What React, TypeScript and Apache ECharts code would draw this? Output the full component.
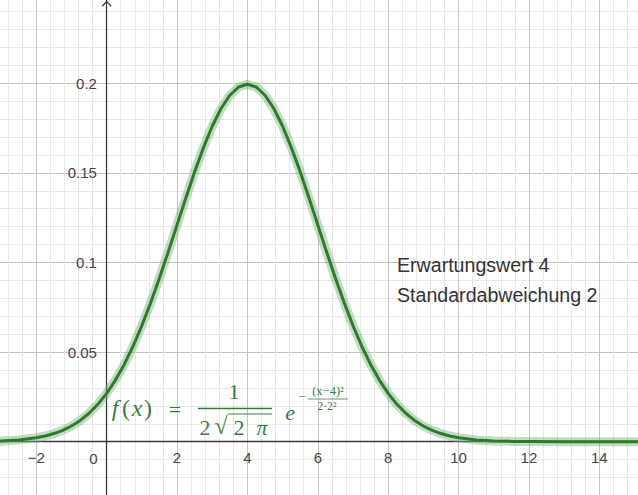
import React, { useEffect, useRef } from "react";
import * as echarts from "echarts";

// x positions and density values (mean 4, sd 2)
const xs = [
  -3.5, -3, -2.5, -2, -1.75, -1.5, -1.25, -1, -0.75, -0.5, -0.25, 0, 0.25, 0.5, 0.75, 1, 1.25, 1.5,
  1.75, 2, 2.25, 2.5, 2.75, 3, 3.25, 3.5, 3.75, 4, 4.25, 4.5, 4.75, 5, 5.25, 5.5, 5.75, 6, 6.25,
  6.5, 6.75, 7, 7.25, 7.5, 7.75, 8, 8.25, 8.5, 8.75, 9, 9.25, 9.5, 9.75, 10, 10.5, 11, 11.5, 12,
  13, 14, 15, 16,
];
const ys = [
  0.00018, 0.00044, 0.00101, 0.00222, 0.0032, 0.00455, 0.00636, 0.00876, 0.01189, 0.01587, 0.02086,
  0.027, 0.03439, 0.04314, 0.05327, 0.06476, 0.07751, 0.09132, 0.10594, 0.12099, 0.13603, 0.15057,
  0.16408, 0.17603, 0.18593, 0.19333, 0.19792, 0.19947, 0.19792, 0.19333, 0.18593, 0.17603,
  0.16408, 0.15057, 0.13603, 0.12099, 0.10594, 0.09132, 0.07751, 0.06476, 0.05327, 0.04314,
  0.03439, 0.027, 0.02086, 0.01587, 0.01189, 0.00876, 0.00636, 0.00455, 0.0032, 0.00222, 0.00101,
  0.00044, 0.00018, 0.00007, 0.00001, 0, 0, 0,
];
const xTickLabelZero = "0";
const infoLines = ["Erwartungswert 4", "Standardabweichung 2"];

const GREEN = "#3a7d3a";
const SERIF = "'Liberation Serif', 'DejaVu Serif', serif";
const SANS = "'Liberation Sans', Arial, sans-serif";

export default function App() {
  const ref = useRef<HTMLDivElement>(null);
  useEffect(() => {
    if (!ref.current) return;
    const chart = echarts.init(ref.current, undefined, { renderer: "svg" });
    const data = xs.map((x, i) => [x, ys[i]]);
    const minus = (s: string) => s.replace("-", "\u2212");
    const t = (text: string, x: number, y: number, size: number, extra: any = {}) => ({
      type: "text",
      x,
      y,
      style: {
        text,
        fill: GREEN,
        font: `${extra.italic ? "italic " : ""}${size}px ${SERIF}`,
        align: "center",
        verticalAlign: "middle",
      },
      z: 100,
    });
    const ln = (x1: number, y1: number, x2: number, y2: number, w: number) => ({
      type: "line",
      shape: { x1, y1, x2, y2 },
      style: { stroke: GREEN, lineWidth: w },
      z: 100,
    });
    chart.setOption({
      animation: false,
      grid: {
        left: -34.1,
        right: -31.7,
        top: -6.3,
        bottom: -36.3,
        containLabel: false,
        outerBoundsMode: "none",
      },
      xAxis: {
        type: "value",
        min: -4,
        max: 16,
        interval: 2,
        axisLine: { onZero: true, lineStyle: { color: "#3a3a3a", width: 1.3 } },
        axisTick: { show: false },
        axisLabel: {
          margin: -81,
          fontSize: 15,
          color: "#444",
          fontFamily: SANS,
          formatter: (v: number) => (v === 0 || v <= -4 || v >= 16 ? "" : minus(String(v))),
        },
        splitLine: { show: true, lineStyle: { color: "#c4c4c4", width: 1 } },
        minorTick: { show: false, splitNumber: 5 },
        minorSplitLine: { show: true, lineStyle: { color: "#e8e8e8", width: 1 } },
      },
      yAxis: {
        type: "value",
        min: -0.05,
        max: 0.25,
        interval: 0.05,
        axisLine: { onZero: true, lineStyle: { color: "#3a3a3a", width: 1.3 } },
        axisTick: { show: false },
        axisLabel: {
          margin: -131,
          fontSize: 15,
          color: "#444",
          fontFamily: SANS,
          formatter: (v: number) => {
            const r = Math.round(v * 100) / 100;
            return r <= 0 || r >= 0.25 ? "" : minus(String(r));
          },
        },
        splitLine: { show: true, lineStyle: { color: "#c4c4c4", width: 1 } },
        minorTick: { show: false, splitNumber: 5 },
        minorSplitLine: { show: true, lineStyle: { color: "#e8e8e8", width: 1 } },
      },
      series: [
        {
          type: "line",
          data,
          showSymbol: false,
          smooth: false,
          lineStyle: { color: "rgba(110,185,110,0.45)", width: 9, join: "round" },
          z: 2,
        },
        {
          type: "line",
          data,
          showSymbol: false,
          smooth: false,
          lineStyle: { color: "#2f7a2f", width: 3, join: "round" },
          z: 3,
        },
      ],
      graphic: [
        {
          type: "polyline",
          shape: { points: [[102.2, 6.2], [106.7, 1.6], [111.2, 6.2]] },
          style: { stroke: "#3a3a3a", lineWidth: 1.3, fill: "none" },
          z: 100,
        },
        {
          type: "text",
          x: 93.5,
          y: 458,
          style: {
            text: xTickLabelZero,
            fill: "#444",
            font: `15px ${SANS}`,
            align: "center",
            verticalAlign: "middle",
          },
          z: 100,
        },
        {
          type: "text",
          x: 397,
          y: 265,
          style: {
            text: infoLines[0],
            fill: "#333",
            font: `19.6px ${SANS}`,
            align: "left",
            verticalAlign: "middle",
          },
          z: 100,
        },
        {
          type: "text",
          x: 397,
          y: 295,
          style: {
            text: infoLines[1],
            fill: "#333",
            font: `19.6px ${SANS}`,
            align: "left",
            verticalAlign: "middle",
          },
          z: 100,
        },
        // formula f(x) = 1 / (2 sqrt(2 pi)) e^{-(x-4)^2 / (2*2^2)}
        t("f", 115, 408, 24, { italic: true }),
        t("(", 126, 408, 24),
        t("x", 137, 408, 24, { italic: true }),
        t(")", 148, 408, 24),
        t("=", 175, 409, 22),
        t("1", 234, 391, 22),
        ln(198, 408.5, 272, 408.5, 1.3),
        t("2", 205, 427, 22),
        t("\u221A", 221, 426, 24),
        ln(228, 414, 272, 414, 1),
        t("2", 239, 427, 22),
        t("\u03C0", 262, 427, 22, { italic: true }),
        t("e", 290, 412, 22, { italic: true }),
        t("\u2212", 302, 396, 13),
        t("(x\u22124)\u00B2", 328, 391, 12.5),
        ln(308, 399, 348, 399, 0.8),
        t("2\u00B72\u00B2", 327, 405.5, 11.5),
      ],
    });
    return () => chart.dispose();
  }, []);
  return (
    <div
      ref={ref}
      style={{ position: "absolute", left: 0, top: 0, width: 638, height: 495, background: "#fff" }}
    />
  );
}
